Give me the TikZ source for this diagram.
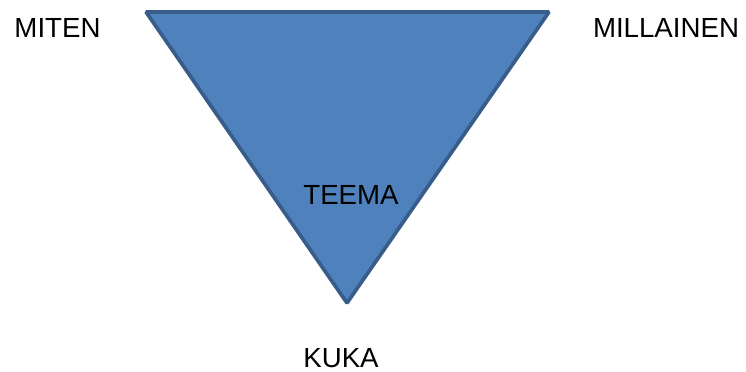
\documentclass[tikz,border=0pt]{standalone}
\usepackage{fontspec}
\setmainfont{Liberation Sans}
\usetikzlibrary{positioning}
\definecolor{wedge}{RGB}{79,129,189}
\definecolor{wedgeline}{RGB}{56,93,138}
\tikzset{
  word/.style={anchor=base,inner sep=0pt,font=\fontsize{23.6}{27}\selectfont,text=black},
  funnel/.style={fill=wedge,draw=wedgeline,line width=0.11cm,line join=bevel},
}
\begin{document}
\begin{tikzpicture}[x=0.03cm,y=-0.03cm]
  \useasboundingbox (0,0) rectangle (746,372);
  % triangle corners
  \coordinate (tl) at (146,12);
  \coordinate (tr) at (549,12);
  \coordinate (bt) at (347,303);
  \draw[funnel] (tl) -- (tr) -- (bt) -- cycle;
  % labels
  \node[word] (miten) at (57.5,37.3) {MITEN};
  \node[word] (millainen) at (666,37.8) {MILLAINEN};
  \node[word] (teema) at (351,205) {TEEMA};
  \node[word] (kuka) at (341,367.5) {KUKA};
\end{tikzpicture}
\end{document}
